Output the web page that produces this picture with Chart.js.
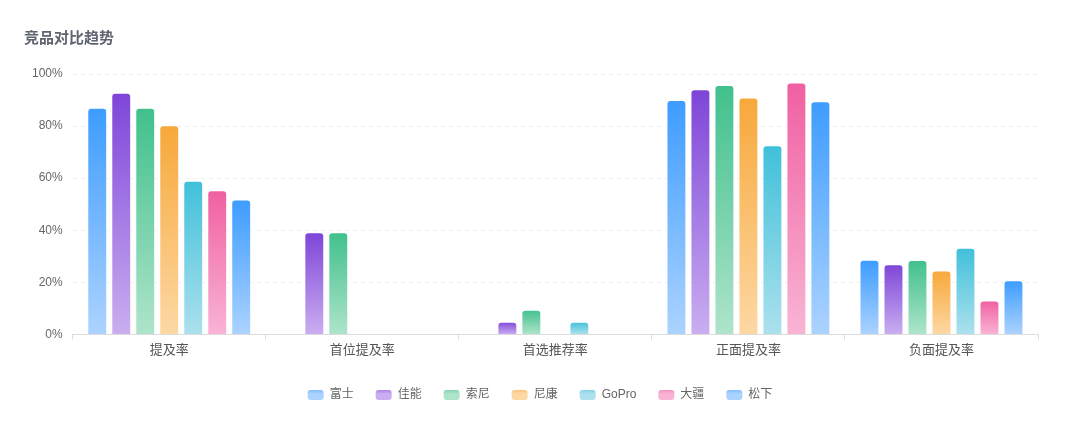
<!DOCTYPE html>
<html>
<head>
<meta charset="utf-8">
<script src="https://cdn.jsdelivr.net/npm/chart.js@4"></script>
<style>
  html, body { margin: 0; padding: 0; background: #fff; }
  #wrap { position: relative; width: 1080px; height: 431px; overflow: hidden; }
  #title { position: absolute; left: 24px; top: 26px; font: 600 15px "Liberation Sans", "Noto Sans CJK SC", sans-serif; color: #5f6470; }
  #c { position: absolute; left: 0; top: 0; }
</style>
</head>
<body>
<div id="wrap">
  <canvas id="c" width="1080" height="431"></canvas>
  <div id="title">竞品对比趋势</div>
</div>
<script>
const categories = ['提及率', '首位提及率', '首选推荐率', '正面提及率', '负面提及率'];
const brands = ['富士', '佳能', '索尼', '尼康', 'GoPro', '大疆', '松下'];
const fuji      = [87, null, null, 90, 28.7];
const canon     = [92.8, 39.2, 4.9, 94.1, 26.9];
const sony      = [87, 39.2, 9.5, 95.8, 28.6];
const nikon     = [80.3, null, null, 91, 24.5];
const gopro     = [59, null, 4.9, 72.6, 33.3];
const dji       = [55.4, null, null, 96.7, 13];
const panasonic = [51.8, null, null, 89.5, 20.8];
const yTicks = [0, 20, 40, 60, 80, 100];

const seriesValues = [fuji, canon, sony, nikon, gopro, dji, panasonic];
const topColors    = ['#3d9cff', '#7e45d8', '#40c08c', '#f7a83a', '#40c0da', '#f060a2', '#3d9cff'];
const bottomColors = ['#acd3ff', '#caaef0', '#aee4cb', '#fdd8a4', '#ace1ed', '#f9b4d4', '#acd3ff'];

const FONT = '"Liberation Sans", "Noto Sans CJK SC", sans-serif';

function barGradient(i) {
  return function (ctx) {
    const chart = ctx.chart;
    const area = chart.chartArea;
    if (!area || ctx.type !== 'data' || ctx.parsed == null || ctx.parsed.y == null) return topColors[i];
    const ys = chart.scales.y;
    const yTop = ys.getPixelForValue(ctx.parsed.y);
    const yBot = ys.getPixelForValue(0);
    if (!isFinite(yTop) || !isFinite(yBot) || yTop === yBot) return topColors[i];
    const g = chart.ctx.createLinearGradient(0, yTop, 0, yBot);
    g.addColorStop(0, topColors[i]);
    g.addColorStop(1, bottomColors[i]);
    return g;
  };
}

const datasets = brands.map((b, i) => ({
  label: b,
  data: seriesValues[i],
  backgroundColor: barGradient(i),
  borderColor: 'rgba(255,255,255,0.7)',
  borderWidth: 1,
  borderRadius: 4,
  borderSkipped: 'bottom',
  categoryPercentage: 0.87,
  barPercentage: 0.83
}));

const centerLegend = {
  id: 'centerLegend',
  afterLayout(chart) {
    const lg = chart.legend;
    if (!lg) return;
    lg.left = 0;
    lg.right = chart.width;
    lg.width = chart.width;
  }
};

new Chart(document.getElementById('c'), {
  type: 'bar',
  data: { labels: categories, datasets },
  plugins: [centerLegend],
  options: {
    responsive: false,
    animation: false,
    devicePixelRatio: 1,
    layout: { padding: { left: 22, right: 42, top: 74, bottom: 20 } },
    plugins: {
      title: { display: false },
      tooltip: { enabled: false },
      legend: {
        position: 'bottom',
        labels: {
          boxWidth: 16,
          boxHeight: 10,
          useBorderRadius: true,
          borderRadius: 3,
          padding: 22,
          color: '#666',
          font: { family: FONT, size: 12 },
          generateLabels(chart) {
            const lg = chart.legend;
            return chart.data.datasets.map((ds, i) => {
              let fill = topColors[i];
              if (lg && isFinite(lg.top) && isFinite(lg.bottom)) {
                const mid = (lg.top + lg.bottom) / 2;
                const g = chart.ctx.createLinearGradient(0, mid - 5, 0, mid + 5);
                g.addColorStop(0, topColors[i]);
                g.addColorStop(1, bottomColors[i]);
                fill = g;
              }
              return {
                text: ds.label,
                fillStyle: fill,
                strokeStyle: 'rgba(0,0,0,0)',
                lineWidth: 0,
                fontColor: '#666',
                hidden: !chart.isDatasetVisible(i),
                datasetIndex: i,
                borderRadius: 3
              };
            });
          }
        }
      }
    },
    scales: {
      x: {
        afterFit(scale) { scale.height += 6; },
        grid: { display: true, drawOnChartArea: false, offset: true, tickLength: 5, color: '#dcdcdc' },
        border: { display: true, color: '#dcdcdc' },
        ticks: { color: '#555', font: { family: FONT, size: 13 }, padding: 3 }
      },
      y: {
        min: 0,
        max: 100,
        afterBuildTicks(axis) { axis.ticks = yTicks.map(v => ({ value: v })); },
        grid: { color: '#eeeeee', drawTicks: false },
        border: { display: false, dash: [4, 4] },
        ticks: {
          color: '#666',
          font: { family: FONT, size: 12 },
          padding: 10,
          callback: v => v + '%'
        }
      }
    }
  }
});
</script>
</body>
</html>
